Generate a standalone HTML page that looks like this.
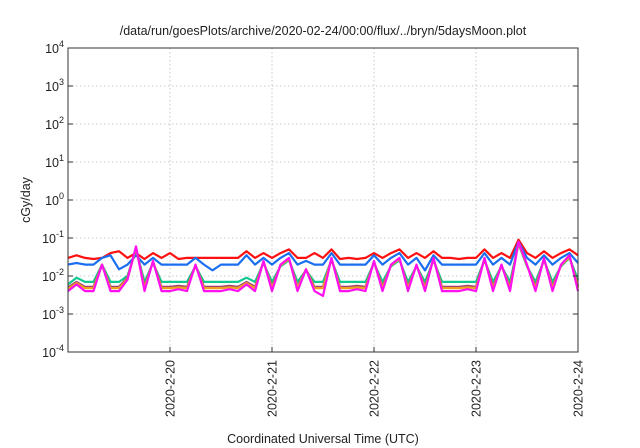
<!DOCTYPE html>
<html><head><meta charset="utf-8"><style>
html,body{margin:0;padding:0;background:#fff;}
svg{display:block;font-family:"Liberation Sans",sans-serif;}
</style></head><body>
<svg id="chart" width="640" height="448" viewBox="0 0 640 448" xmlns="http://www.w3.org/2000/svg">
<text x="323" y="35" font-size="12.5" text-anchor="middle" fill="#222">/data/run/goesPlots/archive/2020-02-24/00:00/flux/../bryn/5daysMoon.plot</text>
<g id="grid"></g>
<g id="series"></g>
<rect x="68" y="48" width="510" height="304" fill="none" stroke="#333" stroke-width="1"/>
<g id="yaxis"></g>
<g id="xaxis"></g>
<text transform="translate(30,200) rotate(-90)" font-size="12.5" text-anchor="middle" fill="#222">cGy/day</text>
<text x="323" y="443" font-size="12.5" text-anchor="middle" fill="#222">Coordinated Universal Time (UTC)</text>
</svg>
<script>
const xTickDays = [20, 21, 22, 23, 24];
const xTickLabels = ["2020-2-20", "2020-2-21", "2020-2-22", "2020-2-23", "2020-2-24"];
const yTickExps = [-4, -3, -2, -1, 0, 1, 2, 3, 4];
const startDay = 19;
const stepDays = 1 / 12;
const red = [0.03,0.035,0.03,0.028,0.03,0.04,0.045,0.03,0.04,0.028,0.04,0.03,0.04,0.028,0.03,0.03,0.03,0.03,0.03,0.03,0.03,0.045,0.03,0.04,0.03,0.04,0.05,0.03,0.03,0.04,0.03,0.05,0.028,0.03,0.028,0.03,0.04,0.03,0.04,0.05,0.03,0.04,0.03,0.045,0.03,0.03,0.028,0.03,0.03,0.05,0.03,0.04,0.03,0.09,0.04,0.03,0.045,0.03,0.04,0.05,0.035];
const blue = [0.02,0.022,0.02,0.02,0.03,0.035,0.015,0.02,0.035,0.02,0.03,0.02,0.02,0.02,0.02,0.03,0.02,0.014,0.02,0.02,0.02,0.035,0.02,0.03,0.02,0.03,0.04,0.02,0.025,0.02,0.02,0.04,0.02,0.02,0.02,0.02,0.035,0.02,0.03,0.04,0.02,0.03,0.014,0.035,0.02,0.02,0.02,0.02,0.02,0.04,0.02,0.03,0.02,0.08,0.03,0.02,0.035,0.02,0.03,0.04,0.022];
const teal = [0.006,0.009,0.007,0.007,0.02,0.007,0.007,0.01,0.05,0.007,0.022,0.007,0.007,0.007,0.007,0.018,0.007,0.007,0.007,0.007,0.007,0.009,0.007,0.022,0.007,0.018,0.026,0.007,0.014,0.007,0.007,0.026,0.007,0.007,0.007,0.007,0.022,0.007,0.018,0.026,0.007,0.018,0.007,0.026,0.007,0.007,0.007,0.007,0.007,0.026,0.007,0.018,0.007,0.07,0.018,0.007,0.026,0.007,0.018,0.03,0.008];
const brown = [0.005,0.007,0.0052,0.0052,0.02,0.0052,0.0052,0.009,0.055,0.0052,0.024,0.0052,0.0052,0.0055,0.0052,0.019,0.0052,0.0052,0.0052,0.0055,0.0052,0.007,0.0052,0.024,0.0052,0.019,0.028,0.0052,0.015,0.0052,0.0052,0.028,0.0052,0.0052,0.0055,0.0052,0.024,0.0052,0.019,0.028,0.0052,0.019,0.0052,0.028,0.0052,0.0052,0.0052,0.0055,0.0052,0.028,0.0052,0.019,0.0052,0.075,0.019,0.0052,0.028,0.0052,0.019,0.032,0.0055];
const orange = [0.0046,0.0065,0.0048,0.0048,0.02,0.0048,0.0048,0.0085,0.055,0.0048,0.024,0.0048,0.0048,0.005,0.0048,0.019,0.0048,0.0048,0.0048,0.005,0.0048,0.0065,0.0048,0.024,0.0048,0.019,0.028,0.0048,0.015,0.0048,0.0048,0.028,0.0048,0.0048,0.005,0.0048,0.024,0.0048,0.019,0.028,0.0048,0.019,0.0048,0.028,0.0048,0.0048,0.0048,0.005,0.0048,0.028,0.0048,0.019,0.0048,0.075,0.019,0.0048,0.028,0.0048,0.019,0.032,0.005];
const magenta = [0.004,0.006,0.004,0.004,0.02,0.004,0.004,0.008,0.06,0.004,0.025,0.004,0.004,0.0045,0.004,0.02,0.004,0.004,0.004,0.0045,0.004,0.006,0.004,0.025,0.004,0.02,0.03,0.004,0.015,0.004,0.003,0.03,0.004,0.004,0.0045,0.004,0.025,0.004,0.02,0.03,0.004,0.02,0.004,0.03,0.004,0.004,0.004,0.0045,0.004,0.03,0.004,0.02,0.004,0.08,0.02,0.004,0.03,0.004,0.02,0.035,0.004];

const NS = "http://www.w3.org/2000/svg";
const L = 68, R = 578, T = 48, B = 352;
const xMin = 19, xMax = 24, yMinE = -4, yMaxE = 4;
function xScale(d){ return L + (d - xMin) / (xMax - xMin) * (R - L); }
function yScale(v){ return B - (Math.log10(v) - yMinE) / (yMaxE - yMinE) * (B - T); }
function mk(tag, attrs, parent){ const e = document.createElementNS(NS, tag); for (const k in attrs) e.setAttribute(k, attrs[k]); parent.appendChild(e); return e; }

const grid = document.getElementById("grid");
const yaxis = document.getElementById("yaxis");
const xaxis = document.getElementById("xaxis");
yTickExps.forEach(function(e){
  const y = yScale(Math.pow(10, e));
  if (e > yMinE && e < yMaxE) {
    const g = mk("line", {x1:L, x2:R, y1:y, y2:y, stroke:"#bbb", "stroke-width":"0.8", "stroke-dasharray":"1.5,2.5"}, grid);
    
    
  }
  const t1 = mk("line", {x1:L, x2:L+5, y1:y, y2:y, stroke:"#333"}, yaxis);
  
  
  const t2 = mk("line", {x1:R-5, x2:R, y1:y, y2:y, stroke:"#333"}, yaxis);
  
  
  const tx = mk("text", {x:64, y:y+5, "font-size":"12.5", "text-anchor":"end", fill:"#222"}, yaxis);
  
  
  tx.textContent = "10";
  const sp = mk("tspan", {dy:"-6", "font-size":"9"}, tx);
  sp.textContent = String(e);
});
xTickDays.forEach(function(d, i){
  const x = xScale(d);
  if (d < xMax) {
    const g = mk("line", {x1:x, x2:x, y1:T, y2:B, stroke:"#bbb", "stroke-width":"0.8", "stroke-dasharray":"1.5,2.5"}, grid);
    
    
  }
  const t1 = mk("line", {x1:x, x2:x, y1:B-5, y2:B, stroke:"#333"}, xaxis);
  
  
  const tx = mk("text", {transform:"translate(" + (x+4.5) + ",360) rotate(-90)", "font-size":"12.5", "text-anchor":"end", fill:"#222"}, xaxis);
  
  
  tx.textContent = xTickLabels[i];
});

const seriesG = document.getElementById("series");
const seriesList = [
  {name:"red", data:red, color:"#ff1010"},
  {name:"blue", data:blue, color:"#1a6ff0"},
  {name:"teal", data:teal, color:"#10c890"},
  {name:"brown", data:brown, color:"#a04070"},
  {name:"orange", data:orange, color:"#f0a020"},
  {name:"magenta", data:magenta, color:"#ff10f0"}
];
seriesList.forEach(function(s){
  const pts = s.data.map(function(v, i){ return xScale(startDay + i * stepDays).toFixed(1) + "," + yScale(v).toFixed(1); }).join(" ");
  const p = mk("polyline", {points:pts, fill:"none", stroke:s.color, "stroke-width":"2.2", "stroke-linejoin":"round"}, seriesG);
  
  
});
</script>
</body></html>
